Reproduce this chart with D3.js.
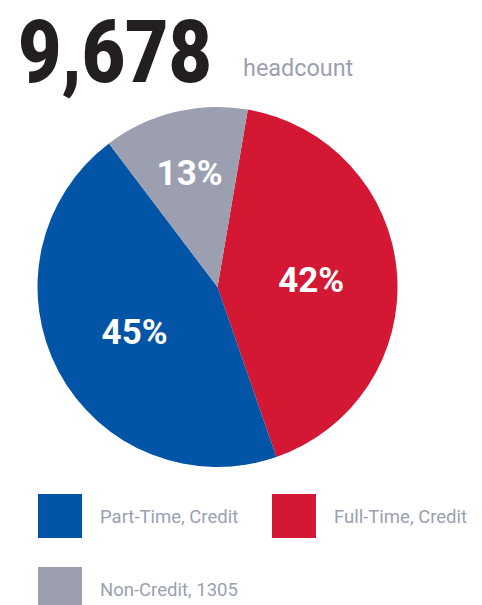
<!DOCTYPE html>
<html>
<head>
<meta charset="utf-8">
<script src="https://cdn.jsdelivr.net/npm/d3@7"></script>
<style>
  html, body { margin: 0; padding: 0; background: #fff; overflow: hidden; }
  svg { display: block; }
</style>
</head>
<body>
<svg id="chart" width="482" height="605"></svg>
<script>
// ---- data ----
const totalLabel = "9,678";
const subtitle = "headcount";
const categories = ["Full-Time, Credit", "Part-Time, Credit", "Non-Credit"];
const values = [42, 45, 13];
const legendLabels = ["Part-Time, Credit", "Full-Time, Credit", "Non-Credit, 1305"];
const legendKeys = ["Part-Time, Credit", "Full-Time, Credit", "Non-Credit"];
const colors = ["#D41733", "#0154A6", "#9C9FB0"];

// ---- drawing ----
const svg = d3.select("#chart");
const cx = 217.5, cy = 287, R = 180;
const textGrey = "#9ba0b2";

const color = d3.scaleOrdinal().domain(categories).range(colors);

// Header
svg.append("text")
  .attr("x", 18).attr("y", 82)
  .attr("font-family", "Roboto, 'Liberation Sans Narrow', sans-serif")
  .attr("font-weight", 900)
  .attr("font-size", 87)
  .attr("fill", "#231f20")
  .attr("textLength", 194)
  .attr("lengthAdjust", "spacingAndGlyphs")
  .text(totalLabel);

svg.append("text")
  .attr("x", 243).attr("y", 76)
  .attr("font-family", "Roboto, sans-serif")
  .attr("font-size", 23.4)
  .attr("fill", textGrey)
  .text(subtitle);

// Pie
const startDeg = 9.7;
const pie = d3.pie().sort(null).value(d => d.value)
  .startAngle(startDeg * Math.PI / 180)
  .endAngle((startDeg + 360) * Math.PI / 180);
const data = categories.map((c, i) => ({ cat: c, value: values[i] }));
const arcs = pie(data);
const arc = d3.arc().innerRadius(0).outerRadius(R);

const g = svg.append("g").attr("transform", `translate(${cx},${cy})`);
g.selectAll("path").data(arcs).join("path")
  .attr("d", arc)
  .attr("fill", d => color(d.data.cat));

g.selectAll("text.lbl").data(arcs).join("text")
  .attr("class", "lbl")
  .attr("transform", d => {
    const r = R * (d.data.value < 20 ? 0.655 : 0.522);
    const a = (d.startAngle + d.endAngle) / 2;
    return `translate(${r * Math.sin(a)},${-r * Math.cos(a)})`;
  })
  .attr("text-anchor", "middle")
  .attr("dy", "0.36em")
  .attr("font-family", "Roboto, sans-serif")
  .attr("font-weight", 700)
  .attr("font-size", 35)
  .attr("fill", "#fff")
  .text(d => d.data.value + "%");

// Legend
const legendPos = [[38, 494], [272, 494], [38, 567]];
const lg = svg.append("g");
legendLabels.forEach((lab, i) => {
  const [x, y] = legendPos[i];
  lg.append("rect").attr("x", x).attr("y", y).attr("width", 44).attr("height", 44)
    .attr("fill", color(legendKeys[i]));
  lg.append("text").attr("x", x + 62).attr("y", y + 22)
    .attr("dy", "0.36em")
    .attr("font-family", "Roboto, sans-serif")
    .attr("font-size", 18.5)
    .attr("fill", textGrey)
    .text(lab);
});
</script>
</body>
</html>
